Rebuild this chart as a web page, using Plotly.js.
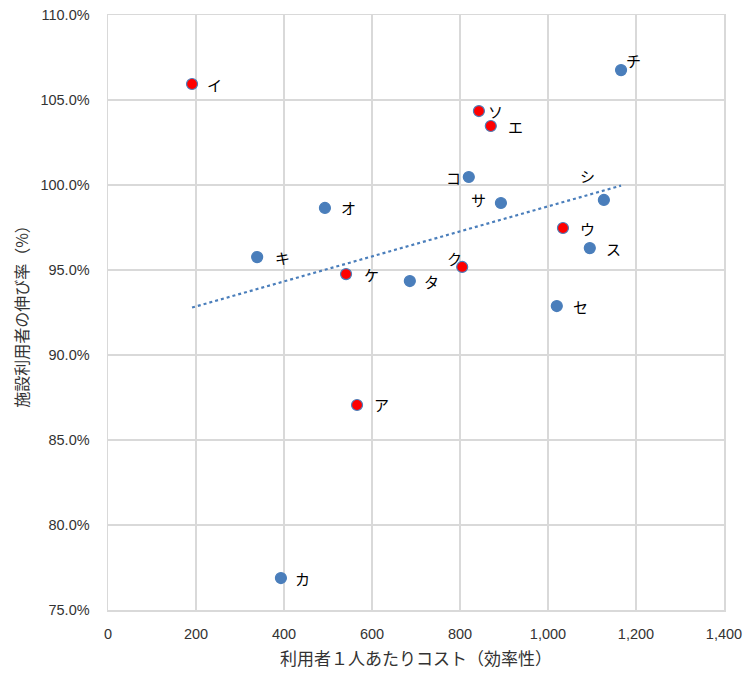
<!DOCTYPE html>
<html><head><meta charset="utf-8">
<script src="https://cdn.plot.ly/plotly-3.0.1.min.js"></script>
<style>html,body{margin:0;padding:0;background:#fff}</style>
</head><body>
<div id="chart" style="width:743px;height:675px"></div>
<script>
const names = ["イ","チ","ソ","エ","コ","サ","シ","オ","ウ","ス","キ","ケ","ク","タ","セ","ア","カ"];
const costs = [191,1166,843,870,820,893,1127,493,1034,1095,339,541,805,686,1020,566,393];
const growth = [105.94,106.76,104.35,103.47,100.47,98.94,99.12,98.65,97.47,96.29,95.76,94.76,95.18,94.35,92.88,87.06,76.88];
const highlighted = [true,false,true,true,false,false,false,false,true,false,false,true,true,false,false,true,false];
const labelDx = [22,12,17,25,-15,-22,-16,24,25,24,25,25,-8,22,24,24,22];
const labelDy = [0,-10,0,0,0,-4,-24,0,0,0,0,0,-8,0,0,0,0];
const xTicks = [0,200,400,600,800,1000,1200,1400];
const xTickText = ["0","200","400","600","800","1,000","1,200","1,400"];

const blue = "#4a7ebb";
// linear trendline (least squares)
const n = costs.length;
const mx = costs.reduce((a,b)=>a+b,0)/n;
const my = growth.reduce((a,b)=>a+b,0)/n;
let sxy=0, sxx=0;
for(let i=0;i<n;i++){sxy+=(costs[i]-mx)*(growth[i]-my);sxx+=(costs[i]-mx)**2;}
const slope = sxy/sxx, icpt = my - slope*mx;
const xmin = Math.min(...costs), xmax = Math.max(...costs);

const traces = [
 {x:[xmin,xmax], y:[icpt+slope*xmin, icpt+slope*xmax], mode:"lines", type:"scatter",
  line:{color:blue, width:2.2, dash:"dot"}, hoverinfo:"skip"},
 {x:costs, y:growth, mode:"markers", type:"scatter",
  marker:{size:11, color:highlighted.map(h=>h?"#ff0000":blue), line:{color:blue, width:1.2}}}
];

const annotations = names.map((t,i)=>({
  x:costs[i], y:growth[i], text:t, showarrow:false, xshift:labelDx[i], yshift:-labelDy[i],
  font:{family:"Noto Sans CJK JP", size:15, color:"#000"}
}));

const axisCommon = {showline:true, mirror:true, linecolor:"#d9d9d9", linewidth:1.5,
  showgrid:true, gridcolor:"#d9d9d9", gridwidth:1.5, zeroline:false, ticks:"",
  tickfont:{family:"Liberation Sans", size:14.5, color:"#333333"}};

const layout = {
  width:743, height:675, margin:{l:108, r:19, t:15, b:65},
  paper_bgcolor:"#fff", plot_bgcolor:"#fff", showlegend:false,
  font:{family:"Noto Sans CJK JP"},
  xaxis:Object.assign({}, axisCommon, {range:[0,1400], tickvals:xTicks, ticktext:xTickText,
    ticklabelstandoff:10,
    title:{text:"利用者１人あたりコスト（効率性）", font:{family:"Noto Sans CJK JP", size:17, color:"#333333"}, standoff:12}}),
  yaxis:Object.assign({}, axisCommon, {range:[75,110], dtick:5, tickformat:".1f", ticksuffix:"%",
    ticklabelstandoff:14,
    title:{text:"施設利用者の伸び率（%）", font:{family:"Noto Sans CJK JP", size:16, color:"#333333"}, standoff:8}}),
  annotations:annotations
};
Plotly.newPlot("chart", traces, layout, {displayModeBar:false, staticPlot:true});
</script>
</body></html>
